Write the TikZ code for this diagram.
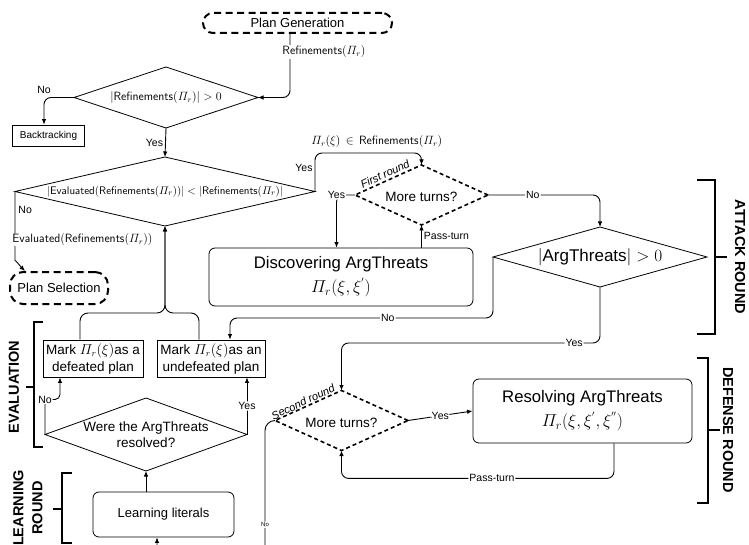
\documentclass[tikz,border=0pt]{standalone}
\usepackage{amsmath}
\usepackage[no-math]{fontspec}
\setmainfont{Liberation Sans}
\usetikzlibrary{shapes.geometric,arrows.meta,calc}

\tikzset{
  conn/.style={line width=0.9pt, -{Latex[length=5.5pt,width=4.5pt]}, rounded corners=7pt},
  brk/.style={line width=2pt},
  lbl/.style={fill=white, inner sep=1pt, font=\fontsize{10.5}{12}\selectfont},
  mlbl/.style={fill=white, inner sep=1pt, font=\fontsize{11.5}{13}\selectfont},
  tinylbl/.style={fill=white, inner sep=1pt, font=\fontsize{6}{7}\selectfont},
  roundlbl/.style={inner sep=0pt, font=\fontsize{11}{13}\itshape},
  terminal/.style={draw, line width=2pt, dash pattern=on 7pt off 4.5pt, inner sep=0pt,
    font=\fontsize{13}{15}\selectfont},
  box/.style={draw, line width=0.8pt, inner sep=0pt, align=center},
  rbox/.style={box, rounded corners=6pt},
  dmd/.style={draw, shape=diamond, line width=0.8pt, inner sep=0pt, outer sep=0pt},
  ddmd/.style={dmd, line width=1.6pt, dash pattern=on 4pt off 3pt},
  dtext/.style={inner sep=0pt, align=center},
  side/.style={inner sep=0pt, align=center, font=\fontsize{14.5}{19}\selectfont\bfseries},
}

\begin{document}
\begin{tikzpicture}[x=1pt,y=-1pt]
\useasboundingbox (0,0) rectangle (749,545);
\clip (0,0) rectangle (749,545);

% ---------- terminals and boxes ----------
\node[terminal, rounded corners=10pt, minimum width=189pt, minimum height=20pt] (pg) at (297.5,23) {Plan Generation};
\node[terminal, rounded corners=13pt, minimum width=98pt, minimum height=32pt] (ps) at (59,288) {Plan Selection};
\node[box, minimum width=72pt, minimum height=21pt, font=\fontsize{10}{12}\selectfont] (bt) at (48.5,135.5) {Backtracking};

\node[rbox, minimum width=264pt, minimum height=58pt, font=\fontsize{16.7}{22}\selectfont] (disc) at (341,277)
  {Discovering ArgThreats\\[2pt] $\varPi_r(\xi,\xi^{'})$};
\node[rbox, minimum width=219pt, minimum height=64pt, font=\fontsize{16.7}{22}\selectfont] (res) at (582.5,411)
  {Resolving ArgThreats\\[2pt] $\varPi_r(\xi,\xi^{'},\xi^{''})$};

\node[box, minimum width=100pt, minimum height=37pt, font=\fontsize{13.5}{17}\selectfont] (mdef) at (93,358.5)
  {Mark $\varPi_r(\xi)$as a\\defeated plan};
\node[box, minimum width=108pt, minimum height=37pt, font=\fontsize{13.5}{17}\selectfont] (mundef) at (211,358.5)
  {Mark $\varPi_r(\xi)$as an\\undefeated plan};
\node[rbox, minimum width=141pt, minimum height=45pt, font=\fontsize{13}{15}\selectfont] (learn) at (163.5,514.5) {Learning literals};

% ---------- decisions ----------
\node[dmd, minimum width=184pt, minimum height=61pt] (d1) at (166,97.5) {};
\node[dtext, font=\fontsize{12}{14}\selectfont] (d1t) at (d1.center) {$|\mathsf{Refinements}(\varPi_r)|>0$};

\node[dmd, minimum width=300pt, minimum height=69pt] (d2) at (165,191.5) {};
\node[dtext, font=\fontsize{11.2}{13}\selectfont] (d2t) at (d2.center)
  {$|\mathsf{Evaluated}(\mathsf{Refinements}(\varPi_r))|<|\mathsf{Refinements}(\varPi_r)|$};

\node[ddmd, minimum width=133pt, minimum height=60pt] (mt1) at (421.5,195) {};
\node[dtext, font=\fontsize{13.5}{16}\selectfont] (mt1t) at ([yshift=-2pt]mt1.center) {More turns?};

\node[dmd, minimum width=214pt, minimum height=60pt] (at) at (600,257) {};
\node[dtext, font=\fontsize{17}{20}\selectfont] (att) at (at.center) {$|\text{ArgThreats}|>0$};

\node[ddmd, minimum width=133pt, minimum height=60pt] (mt2) at (341.5,420.5) {};
\node[dtext, font=\fontsize{13.5}{16}\selectfont] (mt2t) at ([yshift=-2pt]mt2.center) {More turns?};

\node[dmd, minimum width=202pt, minimum height=73pt] (d3) at (146,434.5) {};
\node[dtext, font=\fontsize{13.5}{16}\selectfont] (d3t) at (d3.center) {Were the ArgThreats\\resolved?};

\node[roundlbl, rotate=25] (fr) at (385,174) {First round};
\node[roundlbl, rotate=25] (sr) at (303,402) {Second round};

% ---------- connectors ----------
\draw[conn] ([xshift=-7.5pt]pg.south) |- (d1.east);
\node[mlbl] (lref) at (324,52) {$\mathsf{Refinements}(\varPi_r)$};

\draw[conn] (d1.west) -| node[pos=0.5, above=2pt, lbl, fill=none] {No} ([xshift=-4.5pt]bt.north);
\draw[conn] (d1.south) -- node[lbl, left=1pt] {Yes} (d2.north);

\draw[conn] (d2.east) |- node[lbl, pos=0.3, left=1pt] {Yes}
  node[mlbl, pos=0.79, above=4pt, fill=none] {$\varPi_r(\xi)\,\in\,\mathsf{Refinements}(\varPi_r)$}
  ($(mt1.north)+(0,-12)$) -- (mt1.north);

\draw[conn] (d2.west) -- node[lbl, pos=0.3, right=2pt, fill=none] {No}
  node[mlbl, pos=0.78, anchor=west, xshift=-4pt] {$\mathsf{Evaluated}(\mathsf{Refinements}(\varPi_r))$}
  ++(0,62) .. controls +(0,6) and +(-4,-4) .. ([xshift=-34pt]ps.north);

\draw[conn] (mt1.west) -| node[lbl, pos=0.5] {Yes} ([xshift=-4.5pt]disc.north);
\draw[conn] (disc.north -| mt1.south) -- node[lbl, right=1pt] {Pass-turn} (mt1.south);
\draw[conn] (mt1.east) -| node[lbl, pos=0.2] {No} (at.north);

\draw[conn] (at.west) -- ++(0,61) -| node[lbl, pos=0.2] {No} ([xshift=19pt]mundef.north);
\draw[conn] (at.south) -- ++(0,56) -| node[lbl, pos=0.05] {Yes} (mt2.north);

\draw[conn] (mt2.east) -- node[lbl] {Yes} (res.west);
\draw[conn] ([xshift=31.5pt]res.south) -- ++(0,35) -| node[lbl, pos=0.224] {Pass-turn} (mt2.south);

\coordinate (lowturn) at (265,556);
\draw[conn, rounded corners=10pt] (mt2.west) -| node[tinylbl, pos=0.885] {No} (lowturn) -| ([xshift=-6.5pt]learn.south);

\draw[conn] ([xshift=-17.5pt]learn.north) -- (d3.south);
\draw[conn, rounded corners=5pt] (d3.west) -- ++(0,-35) node[lbl] {No} -| ([xshift=-33pt]mdef.south);
\draw[conn] (d3.east) -- node[lbl] {Yes} (d3.east |- mundef.south);

\coordinate (merge) at ($(d2.south)+(0,87)$);
\draw[conn, rounded corners=8pt] ([xshift=-13pt]mdef.north) |- (merge) -- (d2.south);
\draw[conn, rounded corners=8pt] ([xshift=-12pt]mundef.north) |- (merge) -- (d2.south);

% ---------- round brackets ----------
\draw[brk] (697,180) -- (715,180) -- (715,334) -- (697,334);
\draw[brk] (715,257) -- (727,257);
\node[side, rotate=-90] (atk) at (740,257) {ATTACK ROUND};

\draw[brk] (697,358) -- (708,358) -- (708,503) -- (697,503);
\draw[brk] (708,430) -- (720,430);
\node[side, rotate=-90] (dfs) at (728,430) {DEFENSE ROUND};

\draw[brk] (43,322) -- (34,322) -- (34,447) -- (43,447);
\draw[brk] (34,387) -- (26,387);
\node[side, rotate=90] (evl) at (14,387) {EVALUATION};

\draw[brk] (72,473) -- (62,473) -- (62,543) -- (72,543);
\draw[brk] (62,509) -- (53,509);
\node[side, rotate=90] (lrn) at (28,508) {LEARNING\\ROUND};
\end{tikzpicture}
\end{document}
